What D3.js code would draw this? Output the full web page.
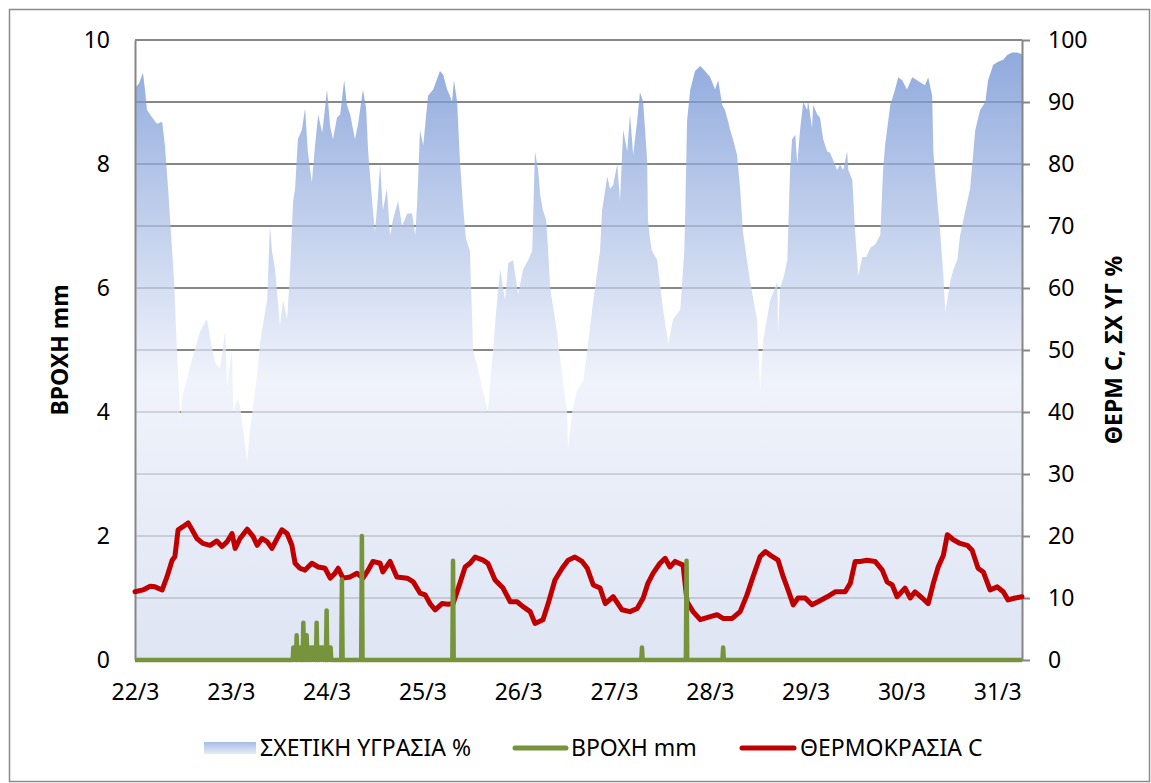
<!DOCTYPE html>
<html>
<head>
<meta charset="utf-8">
<script src="https://cdn.jsdelivr.net/npm/d3@7"></script>
<style>
  body { margin: 0; background: #fff; }
  text { font-family: "Noto Sans", "Open Sans", sans-serif; fill: #000; }
</style>
</head>
<body>
<div id="chart"></div>
<script>
var svgWidth = 1151;
var svgHeight = 783;

var plot = { left: 135, right: 1022, top: 40, bottom: 660 };

// time is in hours from 22/3 00:00
var dayLabels = ["22/3", "23/3", "24/3", "25/3", "26/3", "27/3", "28/3", "29/3", "30/3", "31/3"];
var leftTicks = [0, 2, 4, 6, 8, 10];
var rightTicks = [0, 10, 20, 30, 40, 50, 60, 70, 80, 90, 100];

// relative humidity % [hour, value]
var humidity = [
  [0,92.3],[1.0,93],[2.0,94.7],[2.5,92],[3.0,88.7],[4.3,87.5],[5.5,86.5],[6.8,86.8],[7.5,83],[8.3,76],
  [8.8,71],[9.3,66],[9.8,61],[10.3,53],[10.8,46],[11.3,39],[12.0,43],[13.3,46],[14.5,49],[16.3,53],
  [18.0,55],[18.8,52],[20.0,48],[21.3,47],[22.6,53],[23.1,44],[24.3,50],[24.6,40],[25.6,42],[26.3,41],
  [27.1,37],[28.1,32],[28.8,37],[29.6,41],[30.6,46],[31.3,51],[32.3,55],[33.1,58],[33.8,70],[34.3,66],
  [35.1,63],[36.3,54],[37.1,58],[38.1,55],[38.8,62],[39.6,74],[40.1,76],[40.8,84],[41.8,85.5],[42.6,89],
  [43.3,82],[44.3,77],[45.1,83],[45.9,88],[46.9,85],[48.1,92],[48.9,86],[49.6,84],[50.6,87.5],[51.4,88],
  [52.4,93.5],[53.1,89.5],[53.9,88],[55.1,84],[55.9,86.5],[57.1,92],[57.9,89],[58.4,82],[59.4,74],[60.1,69],
  [60.9,75],[61.4,80],[62.1,72.5],[63.1,76],[63.9,68.5],[64.6,71],[65.9,74],[66.9,70],[68.2,72],[69.4,72],
  [70.2,68.5],[70.7,74],[71.4,85.5],[72.2,83],[73.4,91],[74.7,92],[76.4,95],[77.2,94.4],[78.2,92],[78.9,91],
  [79.4,90],[79.9,93.5],[80.7,90],[81.4,80.6],[82.2,73],[82.9,68],[83.9,66],[84.7,50],[86.4,45.6],[88.4,40],
  [89.7,50],[90.7,58],[91.5,63],[92.7,58],[93.5,64],[94.7,64.5],[96.0,59],[97.2,63],[98.5,64.5],[99.5,66],
  [100.2,82],[101.0,79],[101.5,75],[102.2,72.5],[103.0,71],[103.5,66],[104.0,60],[105.7,53],[107.2,45],[108.2,40],
  [108.5,34],[109.5,40],[110.7,43.5],[112.3,45],[113.3,50],[114.8,58],[116.5,66],[117.0,72.5],[118.3,78],[119.0,76],
  [119.8,76.6],[120.8,80],[121.5,74],[122.3,85.5],[123.3,82],[124.0,88],[124.8,81.5],[125.8,87],[126.5,91.6],[127.3,90],
  [128.3,80.6],[128.5,71],[129.0,68],[129.5,66],[130.8,64.5],[132.3,56.5],[133.6,51],[134.8,55],[136.6,56.5],[137.6,66],
  [137.8,71],[138.3,87],[139.1,92],[140.3,95],[141.6,95.8],[142.8,95],[144.1,94],[145.3,92],[146.1,93.5],[147.1,89.5],
  [147.8,88.7],[148.6,86.8],[149.1,85.5],[149.8,84],[150.8,81.5],[151.6,76],[152.3,69],[153.3,64.5],[154.1,61],[155.8,55],
  [156.6,43.5],[157.4,51.6],[159.1,58],[160.9,61],[161.1,53],[161.6,60],[162.6,62],[163.4,64.5],[164.1,79],[164.6,84],
  [165.4,84.7],[165.9,80],[166.6,85.5],[167.4,90],[168.4,88.7],[168.6,90.3],[169.6,85.8],[169.9,89.5],[170.9,88],[171.6,87.5],
  [172.4,84],[173.4,82],[174.1,81.8],[174.9,80.6],[175.9,79],[176.6,80],[177.4,79],[178.4,82],[178.7,79],[179.7,77.4],
  [180.4,69],[181.2,62],[182.2,65],[183.2,65],[184.2,66.5],[185.4,67],[186.7,68.5],[187.4,79],[187.9,83],[189.2,89.5],
  [190.4,92],[191.2,94],[192.2,93.5],[193.4,92],[194.7,94],[195.9,93.5],[197.2,93],[197.9,92.7],[198.7,94],[199.7,91],
  [200.0,82],[201.0,74],[201.7,69],[202.5,62],[203.0,56],[204.2,61],[205.0,63],[206.0,64.5],[206.7,68.5],[208.0,72.5],
  [209.2,76],[210.5,85.5],[211.7,88.7],[213.0,90],[213.7,93.5],[215.0,96],[216.2,96.5],[217.5,96.8],[218.5,97.6],[219.7,98],
  [221.0,98],[222.2,97.7]
];

// temperature C [hour, value]
var temperature = [
  [0,11.0],[2.0,11.3],[3.8,11.9],[5.0,11.8],[6.8,11.3],[8.0,13.4],[9.3,16.1],[10.0,16.7],[10.8,21.0],[12.0,21.5],
  [13.3,22.1],[14.3,21.0],[15.5,19.6],[17.0,18.8],[18.8,18.5],[20.5,19.2],[21.8,18.3],[23.1,19.1],[24.3,20.4],[25.1,18.0],
  [26.3,19.6],[28.1,21.1],[29.6,19.9],[30.6,18.5],[31.8,19.6],[33.1,19.1],[34.3,18.0],[35.6,19.6],[36.8,21.0],[38.1,20.4],
  [39.3,18.5],[40.1,15.6],[41.3,14.8],[42.6,14.5],[44.3,15.6],[45.9,15.0],[47.6,14.8],[48.9,13.2],[50.1,14.0],[50.9,14.8],
  [52.1,13.2],[53.9,13.4],[55.6,14.0],[57.1,13.2],[58.4,14.5],[59.6,15.9],[61.4,15.6],[62.1,14.2],[63.9,15.9],[65.6,13.4],
  [68.2,13.2],[69.7,12.6],[71.4,10.8],[72.7,10.5],[73.9,9.1],[75.2,8.1],[76.9,9.1],[78.4,9.0],[79.7,9.1],[81.4,12.4],
  [82.7,15.0],[83.9,15.6],[85.2,16.6],[87.2,16.1],[88.4,15.6],[90.2,12.9],[92.2,11.6],[94.0,9.4],[95.7,9.4],[97.2,8.6],
  [99.0,7.8],[100.2,5.9],[102.2,6.5],[103.5,9.1],[105.2,12.9],[107.0,14.8],[108.5,16.1],[110.2,16.6],[112.0,15.9],[113.3,14.8],
  [114.8,12.1],[116.5,11.6],[117.8,9.1],[119.8,10.2],[122.0,8.1],[124.0,7.8],[125.8,8.3],[127.3,10.0],[128.5,12.4],[129.8,14.0],
  [131.5,15.6],[132.8,16.4],[134.0,15.0],[135.3,15.9],[137.3,15.3],[138.3,9.4],[139.8,7.8],[141.6,6.5],[144.1,7.0],[145.8,7.3],
  [147.3,6.7],[149.6,6.7],[151.6,7.8],[153.3,10.5],[154.8,13.4],[156.6,16.7],[157.9,17.5],[159.6,16.7],[161.1,16.1],[162.4,13.4],
  [163.6,11.3],[164.9,8.9],[166.1,10.0],[167.9,10.0],[169.6,8.9],[171.1,9.4],[173.4,10.2],[175.4,11.0],[177.9,11.0],[179.2,12.4],
  [180.4,15.9],[181.7,15.9],[183.4,16.1],[185.4,15.9],[187.2,14.5],[188.4,12.6],[189.7,12.1],[190.9,10.2],[192.9,11.6],[194.2,10.0],
  [195.4,11.0],[197.2,10.0],[198.7,9.1],[200.0,12.4],[201.2,15.0],[202.5,16.9],[203.5,20.2],[205.0,19.4],[206.7,18.8],[208.5,18.5],
  [209.7,17.7],[211.2,14.8],[212.5,14.2],[214.2,11.3],[216.0,11.8],[217.5,11.0],[218.7,9.7],[220.5,10.0],[222.2,10.2]
];

// rain mm, only the 10-minute samples that are not zero [hour, value]
var rain = [
  [39.67,0.2],[40.0,0.2],[40.5,0.4],[41.0,0.2],[41.5,0.2],[42.17,0.6],[42.67,0.2],[43.0,0.4],[43.5,0.2],[44.0,0.2],
  [44.5,0.2],[45.0,0.2],[45.5,0.6],[46.0,0.2],[46.5,0.2],[47.0,0.2],[47.5,0.2],[48.0,0.8],[48.5,0.2],[49.0,0.2],
  [51.83,1.3],[56.83,2.0],[79.67,1.6],[127.0,0.2],[138.17,1.6],[147.33,0.2]
];

var lastHour = d3.max(humidity, d => d[0]);
var step = 1 / 6;
var rainSeries = d3.range(0, Math.round(lastHour / step) + 1).map(i => {
  var hit = rain.find(r => Math.round(r[0] / step) === i);
  return [i * step, hit ? hit[1] : 0];
});

var svg = d3.select("#chart")
  .append("svg")
  .attr("width", svgWidth)
  .attr("height", svgHeight);

var x = d3.scaleLinear().domain([0, lastHour]).range([plot.left, plot.right]);
var yLeft = d3.scaleLinear().domain([0, 10]).range([plot.bottom, plot.top]);
var yRight = d3.scaleLinear().domain([0, 100]).range([plot.bottom, plot.top]);

var defs = svg.append("defs");

var areaFill = defs.append("linearGradient")
  .attr("id", "humFill")
  .attr("gradientUnits", "userSpaceOnUse")
  .attr("x1", 0).attr("x2", 0)
  .attr("y1", plot.top).attr("y2", plot.bottom);
areaFill.selectAll("stop")
  .data([[0, "#668ad0"], [0.55, "#ebeffa"], [1, "#d3dcef"]])
  .enter().append("stop")
  .attr("offset", d => d[0])
  .attr("stop-color", d => d[1]);

var swatchFill = defs.append("linearGradient")
  .attr("id", "humSwatch")
  .attr("x1", 0).attr("x2", 0).attr("y1", 0).attr("y2", 1);
swatchFill.selectAll("stop")
  .data([[0, "#a6bde6"], [1, "#e6ecf7"]])
  .enter().append("stop")
  .attr("offset", d => d[0])
  .attr("stop-color", d => d[1]);

// chart frame
svg.append("rect")
  .attr("x", 9.5).attr("y", 9.5)
  .attr("width", 1140).attr("height", 772)
  .attr("fill", "none")
  .attr("stroke", "#8c8c8c")
  .attr("stroke-width", 1.5);

// gridlines
svg.append("g")
  .selectAll("line")
  .data(rightTicks)
  .enter()
  .append("line")
  .attr("x1", plot.left).attr("x2", plot.right)
  .attr("y1", d => yRight(d)).attr("y2", d => yRight(d))
  .attr("stroke", "#878787")
  .attr("stroke-width", 2);

// humidity area
svg.append("path")
  .datum(humidity)
  .attr("fill", "url(#humFill)")
  .attr("fill-opacity", 0.75)
  .attr("d", d3.area()
    .x(d => x(d[0]))
    .y0(yRight(0))
    .y1(d => yRight(d[1])));

function styleAxis(g) {
  g.attr("font-size", 23);
  g.select(".domain").attr("stroke", "#868686").attr("stroke-width", 2);
  g.selectAll(".tick line").attr("stroke", "#868686").attr("stroke-width", 2);
}

svg.append("g")
  .attr("transform", `translate(0, ${plot.bottom})`)
  .call(d3.axisBottom(x)
    .tickValues(dayLabels.map((d, i) => i * 24))
    .tickFormat((d, i) => dayLabels[i])
    .tickSize(0)
    .tickPadding(24))
  .call(styleAxis);

svg.append("g")
  .attr("transform", `translate(${plot.left}, 0)`)
  .call(d3.axisLeft(yLeft)
    .tickValues(leftTicks)
    .tickSize(0)
    .tickPadding(25))
  .call(styleAxis);

svg.append("g")
  .attr("transform", `translate(${plot.right}, 0)`)
  .call(d3.axisRight(yRight)
    .tickValues(rightTicks)
    .tickSizeInner(8)
    .tickSizeOuter(0)
    .tickPadding(18))
  .call(styleAxis);

// temperature
svg.append("path")
  .datum(temperature)
  .attr("fill", "none")
  .attr("stroke", "#c00000")
  .attr("stroke-width", 5)
  .attr("stroke-linejoin", "round")
  .attr("stroke-linecap", "round")
  .attr("d", d3.line().x(d => x(d[0])).y(d => yRight(d[1])));

// rain
svg.append("path")
  .datum(rainSeries)
  .attr("fill", "none")
  .attr("stroke", "#77933c")
  .attr("stroke-width", 4.5)
  .attr("stroke-linejoin", "round")
  .attr("d", d3.line().x(d => x(d[0])).y(d => yLeft(d[1])));

// axis titles
svg.append("text")
  .attr("transform", "translate(68, 350) rotate(-90)")
  .attr("text-anchor", "middle")
  .attr("font-size", 23)
  .attr("font-weight", "bold")
  .text("ΒΡΟΧΗ mm");

svg.append("text")
  .attr("transform", "translate(1122, 350) rotate(-90)")
  .attr("text-anchor", "middle")
  .attr("font-size", 23)
  .attr("font-weight", "bold")
  .text("ΘΕΡΜ C, ΣΧ ΥΓ %");

// legend
var legendY = 748;
svg.append("rect")
  .attr("x", 204).attr("y", legendY - 6)
  .attr("width", 52).attr("height", 12)
  .attr("fill", "url(#humSwatch)");

svg.append("line")
  .attr("x1", 515).attr("x2", 566)
  .attr("y1", legendY).attr("y2", legendY)
  .attr("stroke", "#77933c").attr("stroke-width", 5)
  .attr("stroke-linecap", "round");

svg.append("line")
  .attr("x1", 742).attr("x2", 794)
  .attr("y1", legendY).attr("y2", legendY)
  .attr("stroke", "#c00000").attr("stroke-width", 5)
  .attr("stroke-linecap", "round");

var legendText = [[260, "ΣΧΕΤΙΚΗ ΥΓΡΑΣΙΑ %"], [571, "ΒΡΟΧΗ mm"], [800, "ΘΕΡΜΟΚΡΑΣΙΑ C"]];
svg.append("g")
  .selectAll("text")
  .data(legendText)
  .enter()
  .append("text")
  .attr("x", d => d[0])
  .attr("y", legendY)
  .attr("dy", "0.36em")
  .attr("font-size", 23)
  .text(d => d[1]);
</script>
</body>
</html>
